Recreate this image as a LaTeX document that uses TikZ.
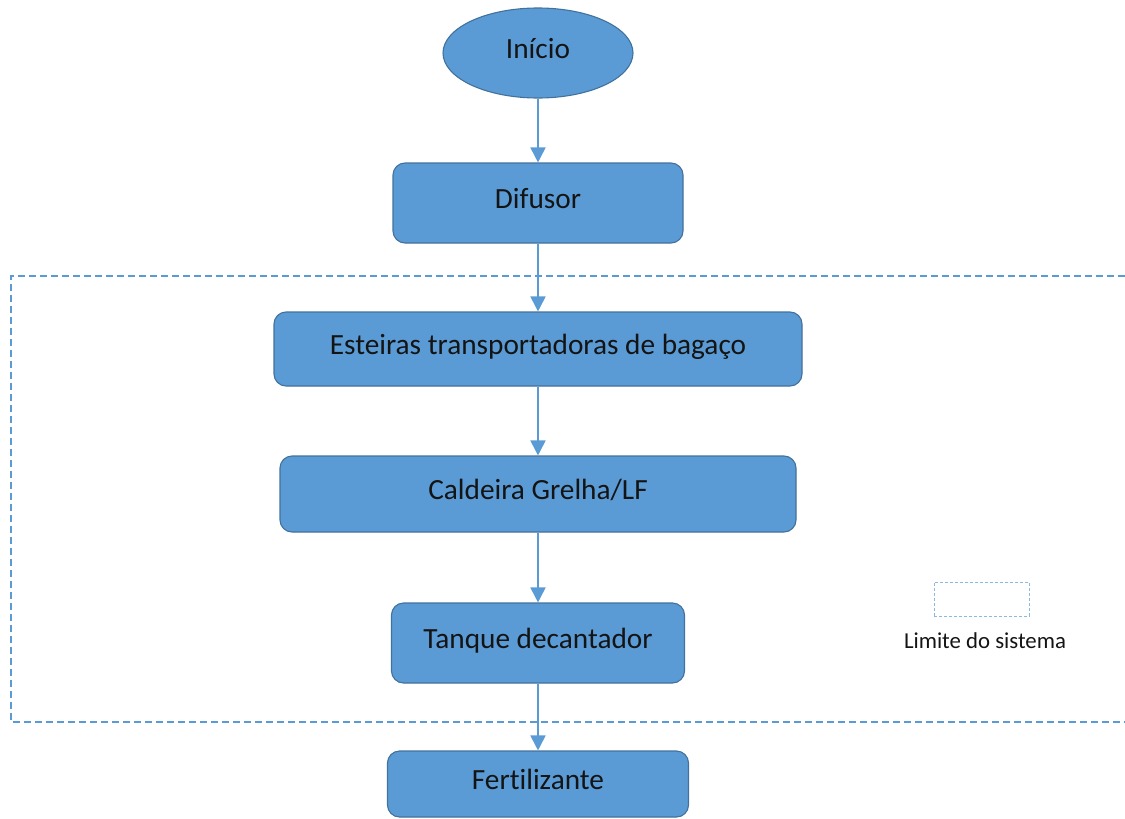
\documentclass[tikz,border=0pt]{standalone}
\usepackage{fontspec}
\setmainfont{Carlito}[Ligatures=NoCommon]
\usetikzlibrary{arrows.meta,shapes.geometric}
\definecolor{boxfill}{HTML}{5B9BD5}
\definecolor{boxline}{HTML}{41719C}
\definecolor{flow}{HTML}{5B9BD5}
\definecolor{ink}{HTML}{141414}
\begin{document}
\begin{tikzpicture}[x=1pt,y=-1pt,
  steptext/.style={text=ink, font=\fontsize{29.3}{33}\selectfont,
    text height=21pt, text depth=10pt},
  stepbox/.style={steptext, draw=boxline, fill=boxfill, line width=1.1pt,
    rounded corners=12pt, inner sep=0pt},
  startnode/.style={steptext, ellipse, draw=boxline, fill=boxfill, line width=1.1pt,
    inner sep=0pt, minimum width=190pt, minimum height=90pt},
  flowarrow/.style={draw=flow, line width=1.8pt, -{Triangle[width=15pt,length=15pt]}},
  boundary/.style={draw=flow, line width=1.6pt, dash pattern=on 7pt off 4pt},
  legendbox/.style={draw=flow!70, line width=1pt, dash pattern=on 3pt off 2pt,
    inner sep=0pt, minimum width=95pt, minimum height=34pt},
  legendtext/.style={text=ink, font=\fontsize{22.8}{26}\selectfont}
]
\useasboundingbox (0,0) rectangle (1125,819);

% system boundary (open on the right)
\draw[boundary] (1125,276) -- (11,276) -- (11,722) -- (1125,722);

% process steps
\node[startnode] (ini) at (538,53) {Início};
\node[stepbox, minimum width=290pt, minimum height=80pt] (dif) at (538,203) {Difusor};
\node[stepbox, minimum width=528pt, minimum height=74pt] (est) at (538,349) {Esteiras transportadoras de bagaço};
\node[stepbox, minimum width=516pt, minimum height=76pt] (cal) at (538,494) {Caldeira Grelha/LF};
\node[stepbox, minimum width=293pt, minimum height=80pt] (tan) at (538,643) {Tanque decantador};
\node[stepbox, minimum width=301pt, minimum height=66pt] (fer) at (538,784) {Fertilizante};

% flow
\draw[flowarrow] (ini) -- (dif);
\draw[flowarrow] (dif) -- (est);
\draw[flowarrow] (est) -- (cal);
\draw[flowarrow] (cal) -- (tan);
\draw[flowarrow] (tan) -- (fer);

% legend
\node[legendbox] (leg) at (981.5,599) {};
\node[legendtext] (legtxt) at (985,641) {Limite do sistema};
\end{tikzpicture}
\end{document}
